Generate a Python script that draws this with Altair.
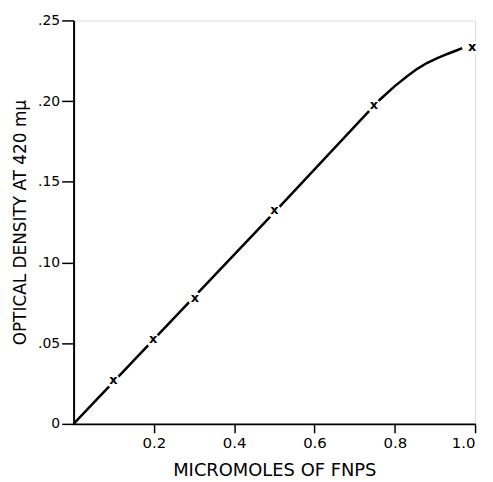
import altair as alt
import pandas as pd

# curve drawn through the data
curve_x = [0.0, 0.5, 0.762, 0.80, 0.83, 0.856, 0.88, 0.906, 0.931, 0.955, 0.968]
curve_y = [0.0, 0.131, 0.2007, 0.2093, 0.2152, 0.2200, 0.2236, 0.2266, 0.2292, 0.2315, 0.2328]

# measured points (x markers)
pts_x = [0.099, 0.198, 0.302, 0.5, 0.748, 0.993]
pts_y = [0.0265, 0.0517, 0.0776, 0.1318, 0.197, 0.233]

x_ticks = [0.2, 0.4, 0.6, 0.8, 1.0]
y_ticks = [0.0, 0.05, 0.10, 0.15, 0.20, 0.25]

curve = pd.DataFrame({"x": curve_x, "y": curve_y})
pts = pd.DataFrame({"x": pts_x, "y": pts_y})

FONT = "DejaVu Sans"

xs = alt.Scale(domain=[0, 1.0], nice=False, zero=True)
ys = alt.Scale(domain=[0, 0.25], nice=False, zero=True)

xax = alt.Axis(values=x_ticks, labelExpr="format(datum.value, '.1f')",
               title="MICROMOLES OF FNPS", grid=False, domainColor="black",
               domainWidth=2, tickColor="black", tickWidth=1.5, tickSize=9,
               labelFont=FONT, labelFontSize=15, labelColor="black", labelPadding=3,
               titleFont=FONT, titleFontSize=18, titleFontWeight="normal",
               titleColor="black", titlePadding=11)
yax = alt.Axis(values=y_ticks,
               labelExpr="datum.value == 0 ? '0' : replace(format(datum.value, '.2f'), '0.', '.')",
               title="OPTICAL DENSITY AT 420 mμ", grid=False, domainColor="black",
               domainWidth=2, tickColor="black", tickWidth=1.5, tickSize=12,
               labelFont=FONT, labelFontSize=14, labelColor="black", labelPadding=2,
               titleFont=FONT, titleFontSize=17, titleFontWeight="normal",
               titleColor="black", titlePadding=8)

line = alt.Chart(curve).mark_line(color="black", strokeWidth=2.5, interpolate="linear").encode(
    x=alt.X("x:Q", scale=xs, axis=xax),
    y=alt.Y("y:Q", scale=ys, axis=yax),
)

halo = alt.Chart(pts).mark_point(shape="circle", filled=True, color="white", size=200, opacity=1).encode(
    x=alt.X("x:Q", scale=xs), y=alt.Y("y:Q", scale=ys)
)

marks = alt.Chart(pts).mark_text(text="x", font=FONT, fontSize=13, fontWeight="bold", color="black",
                                 baseline="middle", align="center", dy=-1).encode(
    x=alt.X("x:Q", scale=xs), y=alt.Y("y:Q", scale=ys)
)

chart = alt.layer(line, halo, marks).properties(
    width=404, height=406,
    autosize=alt.AutoSizeParams(type="none"),
    padding={"left": 66, "top": 11, "right": 10, "bottom": 56},
).configure_view(stroke=None).configure(background="white")

chart.save("out.html", embed_options={"renderer": "svg", "actions": False})
